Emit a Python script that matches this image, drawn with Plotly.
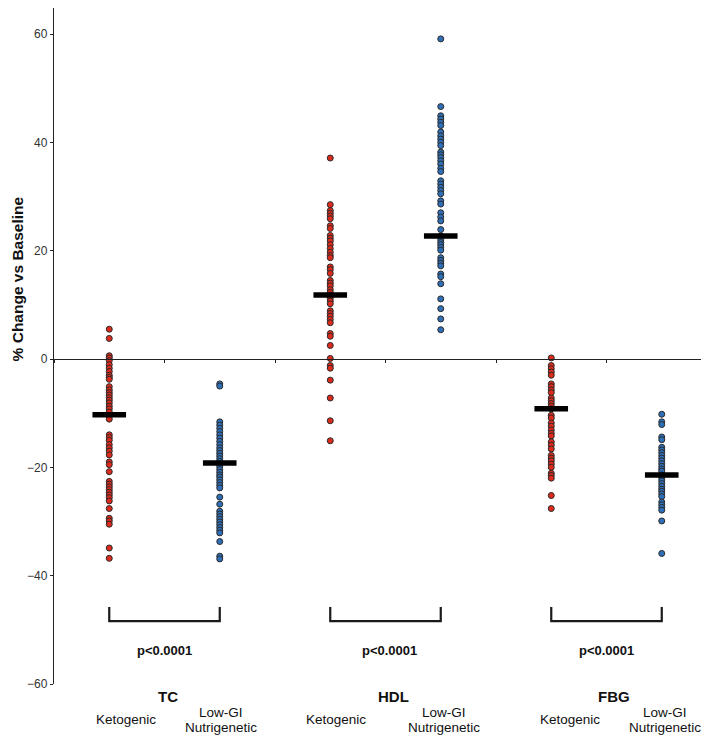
import plotly.graph_objects as go

# ---------------- data ----------------
categories = ["TC Ketogenic", "TC Low-GI Nutrigenetic",
              "HDL Ketogenic", "HDL Low-GI Nutrigenetic",
              "FBG Ketogenic", "FBG Low-GI Nutrigenetic"]
diet = ["Ketogenic", "Low-GI", "Ketogenic", "Low-GI", "Ketogenic", "Low-GI"]

tc_keto = [5.5, 3.8, 0.6, 0.2, -0.3, -1.05, -1.7, -2.3, -3.0, -3.4, -3.75, -5.1, -5.7,
           -6.2, -6.65, -7.15, -7.6, -8.1, -8.7, -9.2, -9.8, -10.5, -11.1, -14.0, -14.5,
           -15.0, -15.8, -16.4, -17.0, -17.7, -19.0, -19.5, -20.8, -22.6, -23.1, -23.6,
           -24.1, -24.6, -25.1, -25.6, -26.2, -27.6, -29.4, -29.9, -30.5, -34.9, -36.8]
tc_lowgi = [-4.6, -5.0, -11.6, -12.2, -12.8, -13.4, -14.0, -14.6, -15.2, -15.8, -16.4,
            -16.9, -17.4, -17.9, -18.4, -18.9, -19.4, -19.9, -20.4, -20.9, -21.4, -21.8,
            -22.3, -22.8, -23.3, -23.8, -25.5, -26.8, -28.1, -28.6, -29.1, -29.6, -30.1,
            -30.6, -31.1, -31.6, -32.1, -33.7, -36.4, -36.9]
hdl_keto = [37.1, 28.5, 27.4, 26.9, 26.4, 25.9, 24.6, 24.1, 22.8, 22.3, 21.8, 21.1, 20.4,
            19.7, 19.1, 18.7, 17.0, 16.5, 15.8, 14.5, 14.0, 13.5, 12.8, 12.3, 11.8, 11.2,
            10.7, 10.2, 8.9, 8.4, 7.9, 7.3, 6.7, 4.7, 4.2, 2.5, 0.1, -1.2, -1.7, -3.9,
            -7.2, -11.4, -15.1]
hdl_lowgi = [59.1, 46.6, 44.9, 44.3, 43.7, 43.1, 41.9, 41.2, 40.6, 40.0, 39.4, 38.2, 37.7,
             37.2, 36.6, 36.0, 35.2, 34.6, 32.9, 32.3, 31.7, 31.1, 30.5, 29.2, 28.6, 27.0,
             26.2, 25.5, 23.9, 22.7, 22.0, 21.5, 21.1, 20.6, 20.1, 18.7, 18.2, 17.7, 17.2,
             15.7, 15.2, 13.9, 11.1, 9.3, 7.4, 5.4]
fbg_keto = [0.2, -1.2, -1.8, -2.4, -3.0, -4.6, -5.1, -5.7, -6.2, -7.2, -7.7, -8.2, -8.7,
            -9.2, -10.4, -10.9, -11.8, -12.4, -13.1, -13.7, -14.2, -15.3, -15.9, -16.6,
            -17.8, -18.3, -18.8, -19.4, -20.0, -21.1, -21.5, -22.0, -25.2, -27.6]
fbg_lowgi = [-10.2, -11.6, -12.1, -14.4, -14.9, -16.3, -16.8, -17.3, -17.8, -18.3, -18.8,
             -19.3, -19.8, -20.3, -20.7, -21.4, -22.0, -22.5, -23.0, -23.5, -24.0, -24.4,
             -24.9, -25.4, -26.4, -26.9, -27.4, -27.9, -29.9, -35.9]
series = [tc_keto, tc_lowgi, hdl_keto, hdl_lowgi, fbg_keto, fbg_lowgi]

group_means = [-10.3, -19.2, 11.8, 22.7, -9.2, -21.4]

measures = ["TC", "HDL", "FBG"]
p_values = ["p<0.0001", "p<0.0001", "p<0.0001"]
keto_label = "Ketogenic"
lowgi_label_lines = ["Low-GI", "Nutrigenetic"]
y_ticks = [-60, -40, -20, 0, 20, 40, 60]
y_title = "% Change vs Baseline"

# ---------------- styling / layout ----------------
RED = "#dc2a1c"
BLUE = "#2f6fb8"
SANS = "Liberation Sans, Arial, Helvetica, sans-serif"

# label offsets (in category units) relative to each pair's first category
title_off = [0.53, 0.57, 0.57]
p_off = [0.50, 0.54, 0.50]
keto_off = [0.15, 0.05, 0.17]
lowgi_off = [1.01, 1.03, 1.03]

fig = go.Figure()

for cat, vals, d in zip(categories, series, diet):
    fig.add_trace(go.Scatter(
        x=[cat] * len(vals), y=vals, mode="markers",
        marker=dict(size=6, color=RED if d == "Ketogenic" else BLUE,
                    line=dict(width=1, color="#2a2a2a")),
        showlegend=False, hoverinfo="y"))

fig.add_trace(go.Scatter(
    x=categories, y=group_means, mode="markers",
    marker=dict(symbol="line-ew", size=24, line=dict(width=5.5, color="black")),
    showlegend=False, hoverinfo="y"))

annotations = []
shapes = []
txt_font = dict(family=SANS, size=13.5, color="#111")
for i, (m, p) in enumerate(zip(measures, p_values)):
    k = 2 * i
    shapes.append(dict(type="path", xref="x", yref="y",
                       path=f"M {k},-45.8 L {k},-48.4 L {k+1},-48.4 L {k+1},-45.8",
                       line=dict(color="#1a1a1a", width=2.2)))
    annotations.append(dict(x=k + p_off[i], y=-53.8, xref="x", yref="y",
                            text=f"<b>{p}</b>", showarrow=False,
                            font=dict(family=SANS, size=13, color="#111")))
    annotations.append(dict(x=k + title_off[i], y=0, xref="x", yref="paper", yshift=-12,
                            text=f"<b>{m}</b>", showarrow=False, yanchor="middle",
                            font=dict(family=SANS, size=15, color="#111")))
    annotations.append(dict(x=k + keto_off[i], y=0, xref="x", yref="paper", yshift=-35,
                            text=keto_label, showarrow=False, yanchor="middle",
                            font=txt_font))
    annotations.append(dict(x=k + lowgi_off[i], y=0, xref="x", yref="paper", yshift=-28,
                            text=lowgi_label_lines[0], showarrow=False, yanchor="middle",
                            font=txt_font))
    annotations.append(dict(x=k + lowgi_off[i], y=0, xref="x", yref="paper", yshift=-43,
                            text=lowgi_label_lines[1], showarrow=False, yanchor="middle",
                            font=txt_font))

annotations.append(dict(x=0, y=14.7, xref="paper", yref="y", xshift=-37,
                        text=f"<b>{y_title}</b>", textangle=-90, showarrow=False,
                        xanchor="center", yanchor="middle",
                        font=dict(family=SANS, size=15.5, color="#111")))

y_lo, y_hi = -60, 64.8
fig.update_layout(
    width=709, height=735,
    margin=dict(l=46, r=0, t=0, b=59),
    paper_bgcolor="white", plot_bgcolor="white",
    shapes=shapes, annotations=annotations,
    xaxis=dict(type="category", categoryorder="array", categoryarray=categories,
               range=[-0.5, 5.5], showgrid=False, zeroline=False,
               showline=True, linecolor="#222", linewidth=1.3,
               ticks="outside", tickson="boundaries", ticklen=3, tickcolor="#222",
               showticklabels=False, anchor="free",
               position=(0 - y_lo) / (y_hi - y_lo)),
    yaxis=dict(range=[y_lo, y_hi], tickvals=y_ticks, showgrid=False, zeroline=False,
               showline=True, linecolor="#222", linewidth=1.3,
               ticks="outside", ticklen=3, tickcolor="#222",
               tickfont=dict(family=SANS, size=12, color="#333")),
)

fig.write_html("out.html")
